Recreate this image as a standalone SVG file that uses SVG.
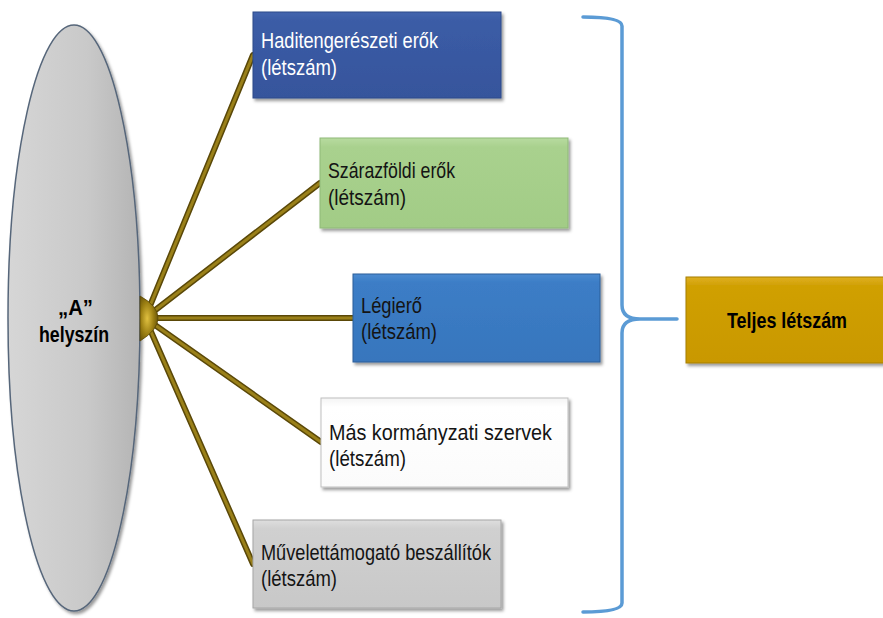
<svg xmlns="http://www.w3.org/2000/svg" width="883" height="618" viewBox="0 0 883 618">
<defs>
<style>
.t{font-family:"Liberation Sans",Arial,sans-serif;font-size:22px;}
.w{fill:#ffffff;}
.d{fill:#141414;}
.b{font-weight:bold;fill:#000000;}
.box{stroke-width:1;}
.conOut{stroke:#5a4808;stroke-width:6;stroke-linecap:round;fill:none;}
.conIn{stroke:#9a8019;stroke-width:3;stroke-linecap:round;fill:none;}
.brace{stroke:#5b9bd5;stroke-width:3.5;fill:none;stroke-linecap:round;}
</style>
<filter id="sh" x="-10%" y="-10%" width="125%" height="130%">
<feDropShadow dx="2" dy="2.5" stdDeviation="1.5" flood-color="#000" flood-opacity="0.4"/>
</filter>
<linearGradient id="gEl" x1="0" y1="0" x2="1" y2="0">
<stop offset="0" stop-color="#d6d6d6"/>
<stop offset="0.6" stop-color="#c9c9c9"/>
<stop offset="1" stop-color="#b4b4b4"/>
</linearGradient>
<linearGradient id="g1" x1="0" y1="0" x2="0" y2="1">
<stop offset="0" stop-color="#4466ae"/><stop offset="0.1" stop-color="#3b5ca6"/><stop offset="1" stop-color="#36559c"/>
</linearGradient>
<linearGradient id="g2" x1="0" y1="0" x2="0" y2="1">
<stop offset="0" stop-color="#b8dba0"/><stop offset="0.1" stop-color="#a9d18e"/><stop offset="1" stop-color="#a2cc86"/>
</linearGradient>
<linearGradient id="g3" x1="0" y1="0" x2="0" y2="1">
<stop offset="0" stop-color="#4a8ad0"/><stop offset="0.1" stop-color="#3c7dc6"/><stop offset="1" stop-color="#3776bd"/>
</linearGradient>
<linearGradient id="g4" x1="0" y1="0" x2="0" y2="1">
<stop offset="0" stop-color="#f4f4f4"/><stop offset="0.1" stop-color="#ffffff"/><stop offset="1" stop-color="#fbfbfb"/>
</linearGradient>
<linearGradient id="g5" x1="0" y1="0" x2="0" y2="1">
<stop offset="0" stop-color="#dedede"/><stop offset="0.1" stop-color="#d0d0d0"/><stop offset="1" stop-color="#c8c8c8"/>
</linearGradient>
<linearGradient id="g6" x1="0" y1="0" x2="0" y2="1">
<stop offset="0" stop-color="#e0b020"/><stop offset="0.1" stop-color="#d0a005"/><stop offset="1" stop-color="#c99800"/>
</linearGradient>
<radialGradient id="gHub" cx="0.4" cy="0.5" r="0.6">
<stop offset="0" stop-color="#e0c040"/><stop offset="0.6" stop-color="#9a7e12"/><stop offset="1" stop-color="#6a560a"/>
</radialGradient>
</defs>

<g id="site">
<ellipse cx="74" cy="318" rx="66" ry="293" fill="url(#gEl)" stroke="#56667a" stroke-width="1.5" filter="url(#sh)"/>
<text class="t b" x="75.5" y="315" text-anchor="middle" textLength="35" lengthAdjust="spacingAndGlyphs">„A”</text>
<text class="t b" x="74" y="342" text-anchor="middle" textLength="70" lengthAdjust="spacingAndGlyphs">helyszín</text>
</g>

<g id="connectors">
<line class="conOut" x1="145" y1="318" x2="253" y2="55"/>
<line class="conOut" x1="145" y1="318" x2="320" y2="183"/>
<line class="conOut" x1="145" y1="318" x2="353" y2="318"/>
<line class="conOut" x1="145" y1="318" x2="321" y2="442"/>
<line class="conOut" x1="145" y1="318" x2="253" y2="564"/>
<line class="conIn" x1="145" y1="318" x2="253" y2="55"/>
<line class="conIn" x1="145" y1="318" x2="320" y2="183"/>
<line class="conIn" x1="145" y1="318" x2="353" y2="318"/>
<line class="conIn" x1="145" y1="318" x2="321" y2="442"/>
<line class="conIn" x1="145" y1="318" x2="253" y2="564"/>
<path d="M140 296 Q158 306 158 318 Q158 330 140 341 Z" fill="url(#gHub)" stroke="#5a4808" stroke-width="0.8"/>
<path class="brace" d="M583 17 Q622 17 622 26 L622 305 Q622 319 640 319 L677 319 M640 319 Q622 319 622 333 L622 603 Q622 612 583 612"/>
</g>

<g id="naval">
<rect x="253" y="12" width="248" height="86" fill="url(#g1)" stroke="#2e4a8a" class="box" filter="url(#sh)"/>
<text class="t w" x="261" y="48" textLength="177" lengthAdjust="spacingAndGlyphs">Haditengerészeti erők</text>
<text class="t w" x="261" y="75" textLength="76" lengthAdjust="spacingAndGlyphs">(létszám)</text>
</g>

<g id="land">
<rect x="320" y="138" width="248" height="90" fill="url(#g2)" stroke="#8fb978" class="box" filter="url(#sh)"/>
<text class="t d" x="328" y="178" textLength="127" lengthAdjust="spacingAndGlyphs">Szárazföldi erők</text>
<text class="t d" x="328" y="205" textLength="78" lengthAdjust="spacingAndGlyphs">(létszám)</text>
</g>

<g id="air">
<rect x="353" y="274" width="247" height="88" fill="url(#g3)" stroke="#2d5f99" class="box" filter="url(#sh)"/>
<text class="t d" x="361" y="313" textLength="61" lengthAdjust="spacingAndGlyphs">Légierő</text>
<text class="t d" x="361" y="339" textLength="76" lengthAdjust="spacingAndGlyphs">(létszám)</text>
</g>

<g id="gov">
<rect x="321" y="398" width="247" height="89" fill="url(#g4)" stroke="#bfbfbf" class="box" filter="url(#sh)"/>
<text class="t d" x="329" y="440" textLength="223" lengthAdjust="spacingAndGlyphs">Más kormányzati szervek</text>
<text class="t d" x="329" y="466" textLength="77" lengthAdjust="spacingAndGlyphs">(létszám)</text>
</g>

<g id="contractors">
<rect x="253" y="520" width="248" height="88" fill="url(#g5)" stroke="#a6a6a6" class="box" filter="url(#sh)"/>
<text class="t d" x="261" y="560" textLength="230" lengthAdjust="spacingAndGlyphs">Művelettámogató beszállítók</text>
<text class="t d" x="261" y="586" textLength="76" lengthAdjust="spacingAndGlyphs">(létszám)</text>
</g>

<g id="total">
<rect x="686" y="277" width="200" height="86" fill="url(#g6)" stroke="#a67f00" class="box" filter="url(#sh)"/>
<text class="t b" x="787" y="328" text-anchor="middle" textLength="120" lengthAdjust="spacingAndGlyphs">Teljes létszám</text>
</g>
</svg>
